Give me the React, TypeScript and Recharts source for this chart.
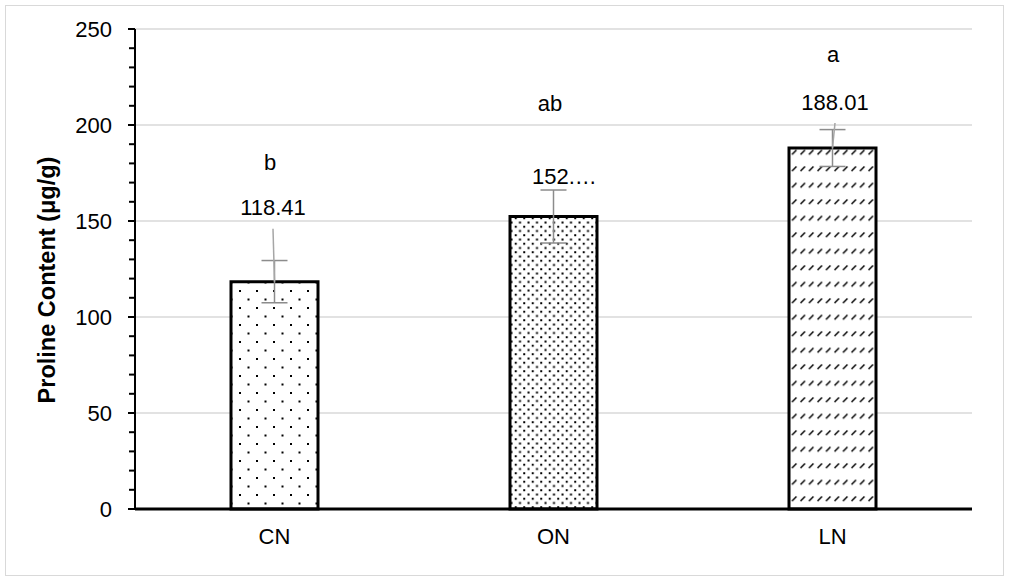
import React from 'react';
import { BarChart, Bar, XAxis, YAxis, CartesianGrid, ErrorBar, Cell, LabelList, Label } from 'recharts';

const categories = ['CN', 'ON', 'LN'];
const proline = [118.41, 152.34, 188.01];
const prolineErr = [11, 13.8, 9.6];
const valueLabels = ['118.41', '152.…', '188.01'];
const letters = ['b', 'ab', 'a'];
const yTicks = [0, 10, 20, 30, 40, 50, 60, 70, 80, 90, 100, 110, 120, 130, 140, 150, 160, 170, 180, 190, 200, 210, 220, 230, 240, 250];
const yMajor = [0, 50, 100, 150, 200, 250];

const FONT = '"Liberation Sans", Arial, sans-serif';
const FILLS = ['url(#pCN)', 'url(#pON)', 'url(#pLN)'];

// hand placed offsets of the moved data labels (px from bar top / centre)
const LABEL_LAYOUT = [
  { numDx: -1.5, numDy: -74, anchor: 'middle', letDx: -4.5, letDy: -119, leader: true },
  { numDx: -21.5, numDy: -40, anchor: 'start', letDx: -3.5, letDy: -113, leader: false },
  { numDx: 2.5, numDy: -46, anchor: 'middle', letDx: 0.5, letDy: -94, leader: true },
];

const data = categories.map((c, i) => ({
  name: c,
  value: proline[i],
  err: prolineErr[i],
  label: valueLabels[i],
  letter: letters[i],
}));

const YTick = (props: any) => {
  const { x, y, payload } = props;
  const major = yMajor.includes(payload.value);
  return (
    <g>
      <line x1={x - (major ? 7 : 6)} x2={x} y1={y} y2={y} stroke="#000" strokeWidth={2} />
      {major && (
        <text x={x - 23} y={y} textAnchor="end" dominantBaseline="central" fontSize={22} fontFamily={FONT} fill="#000">
          {payload.value}
        </text>
      )}
    </g>
  );
};

const BarLabels = (props: any) => {
  const { x, y, width, index } = props;
  const l = LABEL_LAYOUT[index];
  const cx = x + width / 2;
  const ny = y + l.numDy;
  return (
    <g>
      {l.leader && (
        <line x1={cx + l.numDx} y1={ny + 21} x2={cx} y2={y} stroke="#a6a6a6" strokeWidth={1.5} />
      )}
      <text x={cx + l.numDx} y={ny} textAnchor={l.anchor} dominantBaseline="central" fontSize={22} fontFamily={FONT} fill="#000">
        {valueLabels[index]}
      </text>
      <text x={cx + l.letDx} y={y + l.letDy} textAnchor="middle" dominantBaseline="central" fontSize={22} fontFamily={FONT} fill="#000">
        {letters[index]}
      </text>
    </g>
  );
};

const YTitle = () => (
  <text
    x={47}
    y={280}
    transform="rotate(-90 47 280)"
    textAnchor="middle"
    dominantBaseline="central"
    fontSize={23.5}
    fontWeight="bold"
    fontFamily={FONT}
    fill="#000"
  >
    Proline Content (μg/g)
  </text>
);

export default function App() {
  return (
    <div style={{ position: 'absolute', left: 0, top: 0, width: 1009, height: 580, background: '#fff' }}>
      <svg width={0} height={0} style={{ position: 'absolute' }}>
        <defs>
          <pattern id="pCN" width={17} height={17} patternUnits="userSpaceOnUse">
            <rect width={17} height={17} fill="#fff" />
            <rect x={1} y={1} width={2} height={2} fill="#000" />
            <rect x={9.5} y={9.5} width={2} height={2} fill="#000" />
          </pattern>
          <pattern id="pON" width={8.5} height={8.5} patternUnits="userSpaceOnUse">
            <rect width={8.5} height={8.5} fill="#fff" />
            <rect x={0.5} y={0.5} width={2} height={2} fill="#000" />
            <rect x={4.75} y={4.75} width={2} height={2} fill="#000" />
          </pattern>
          <pattern id="pLN" width={8.5} height={16.5} patternUnits="userSpaceOnUse">
            <rect width={8.5} height={16.5} fill="#fff" />
            <line x1={1.5} y1={6} x2={6} y2={1.5} stroke="#000" strokeWidth={1.5} />
          </pattern>
        </defs>
      </svg>
      <div
        style={{
          position: 'absolute',
          left: 5,
          top: 5,
          width: 997,
          height: 569,
          border: '1px solid #d9d9d9',
        }}
      />
      <BarChart
        width={1009}
        height={580}
        data={data}
        margin={{ top: 29, right: 37, bottom: 0, left: 0 }}
        style={{ position: 'absolute', left: 0, top: 0, fontFamily: FONT }}
      >
        <CartesianGrid vertical={false} horizontalValues={[50, 100, 150, 200, 250]} stroke="#d9d9d9" strokeWidth={1.5} />
        <XAxis
          dataKey="name"
          height={71}
          axisLine={{ stroke: '#000', strokeWidth: 3 }}
          tickLine={false}
          tickMargin={13}
          tick={{ fontSize: 22, fill: '#000', fontFamily: FONT }}
        />
        <YAxis
          width={135}
          domain={[0, 250]}
          ticks={yTicks}
          interval={0}
          tickSize={0}
          tickMargin={0}
          axisLine={{ stroke: '#000', strokeWidth: 2 }}
          tickLine={false}
          tick={<YTick />}
        >
          <Label content={<YTitle />} />
        </YAxis>
        <Bar dataKey="value" barSize={87} stroke="#000" strokeWidth={3} isAnimationActive={false}>
          {data.map((_, i) => (
            <Cell key={i} fill={FILLS[i]} />
          ))}
          <ErrorBar dataKey="err" width={13} stroke="#8c8c8c" strokeWidth={1.5} isAnimationActive={false} />
          <LabelList dataKey="label" content={<BarLabels />} />
        </Bar>
      </BarChart>
    </div>
  );
}
